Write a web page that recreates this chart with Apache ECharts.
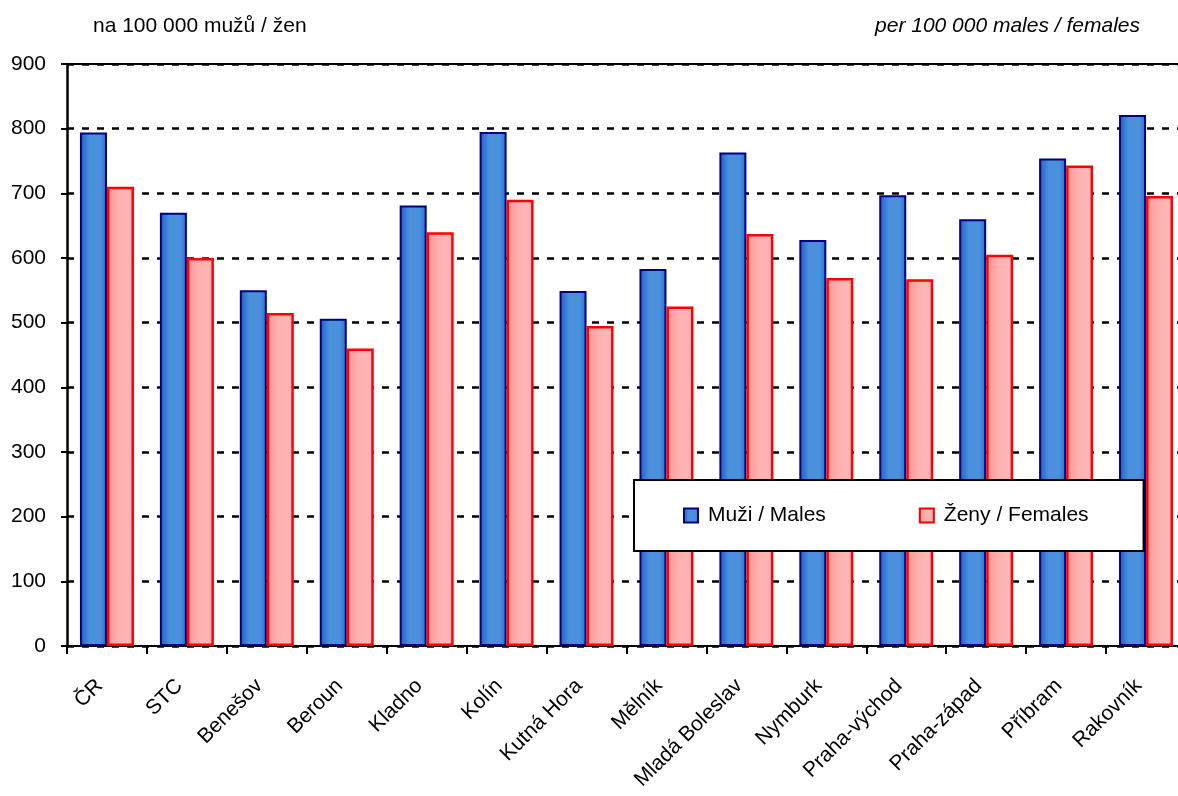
<!DOCTYPE html>
<html>
<head>
<meta charset="utf-8">
<script src="https://cdn.jsdelivr.net/npm/echarts@6/dist/echarts.min.js"></script>
<style>html,body{margin:0;padding:0;background:#fff;}#c{width:1178px;height:796px;}</style>
</head>
<body>
<div id="c"></div>
<script>
const categories = ['ČR','STC','Benešov','Beroun','Kladno','Kolín','Kutná Hora','Mělník','Mladá Boleslav','Nymburk','Praha-východ','Praha-západ','Příbram','Rakovník'];
const males =   [794, 670, 550, 506, 681, 795, 549, 583, 763, 628, 697, 660, 754, 821];
const females = [710, 600, 515, 460, 640, 690, 495, 525, 637, 569, 567, 605, 743, 696];
const yTicks = {min: 0, max: 900, interval: 100};
const seriesNames = ['Muži / Males', 'Ženy / Females'];
const titleLeft = 'na 100 000 mužů / žen';
const titleRight = 'per 100 000 males / females';

const font = '"Liberation Sans", Arial, sans-serif';
const fs = 21;
const chart = echarts.init(document.getElementById('c'));
const blueGrad = new echarts.graphic.LinearGradient(0,0,1,0,[
  {offset:0,color:'#1d5cc6'},{offset:0.35,color:'#4a90dc'},{offset:0.75,color:'#4a90dc'},{offset:1,color:'#2c6ecc'}]);
const pinkGrad = new echarts.graphic.LinearGradient(0,0,1,0,[
  {offset:0,color:'#ff9494'},{offset:0.45,color:'#ffb0b0'},{offset:1,color:'#ffb8b8'}]);

chart.setOption({
  animation:false,
  backgroundColor:'#fff',
  title:[
    {text:titleLeft,left:88,top:11,textStyle:{fontFamily:font,fontSize:fs,fontWeight:'normal',color:'#000'}},
    {text:titleRight,right:33,top:11,textStyle:{fontFamily:font,fontSize:fs,fontWeight:'normal',fontStyle:'italic',color:'#000'}}
  ],
  grid:{left:67,top:64,width:1119,height:582,containLabel:false,outerBoundsMode:'none'},
  legend:{
    data:seriesNames,
    left:634, top:480,
    padding:[25,55,25,49],
    itemGap:93, itemWidth:14, itemHeight:14,
    icon:'rect',
    backgroundColor:'#fff', borderColor:'#000', borderWidth:2,
    textStyle:{fontFamily:font,fontSize:fs,color:'#000',padding:[0,0,0,5]}
  },
  xAxis:{
    type:'category', data:categories,
    axisLine:{lineStyle:{color:'#000',width:2}},
    axisTick:{show:true,length:8,lineStyle:{color:'#000',width:2}},
    axisLabel:{rotate:45,fontFamily:font,fontSize:fs,color:'#000',margin:44,interval:0,verticalAlign:'bottom'}
  },
  yAxis:{
    type:'value', min:yTicks.min, max:yTicks.max, interval:yTicks.interval,
    axisLine:{show:true,lineStyle:{color:'#000',width:2.5}},
    axisTick:{show:true,length:6,lineStyle:{color:'#000',width:2}},
    axisLabel:{fontFamily:font,fontSize:fs,color:'#000',margin:21},
    splitLine:{show:true,lineStyle:{color:'#000',width:2.5,type:[7,8]}}
  },
  series:[
    {name:seriesNames[0],type:'bar',data:males,barWidth:27,barGap:'0%',
     itemStyle:{color:blueGrad,borderColor:'#000080',borderWidth:2},
     markLine:{silent:true,symbol:'none',label:{show:false},lineStyle:{color:'#000',width:2,type:'solid'},data:[{yAxis:900}]}},
    {name:seriesNames[1],type:'bar',data:females,barWidth:27,barGap:'0%',
     itemStyle:{color:pinkGrad,borderColor:'#ff0000',borderWidth:2.5}}
  ]
});
</script>
</body>
</html>
